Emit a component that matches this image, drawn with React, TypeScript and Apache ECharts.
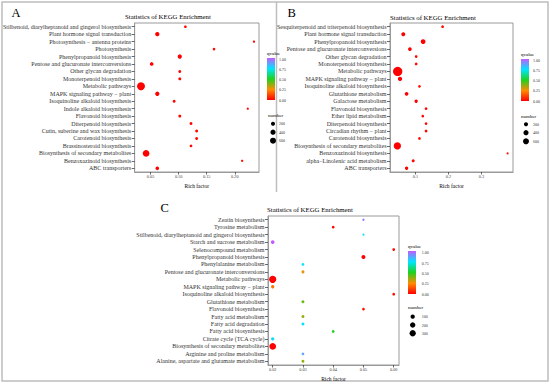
import React, { useEffect, useRef } from 'react';
import * as echarts from 'echarts';

const FONT = '"Liberation Serif", "Times New Roman", serif';

// ---------- Panel A ----------
const catsA = [
  'Stilbenoid, diarylheptanoid and gingerol biosynthesis',
  'Plant hormone signal transduction',
  'Photosynthesis \u2212 antenna proteins',
  'Photosynthesis',
  'Phenylpropanoid biosynthesis',
  'Pentose and glucuronate interconversions',
  'Other glycan degradation',
  'Monoterpenoid biosynthesis',
  'Metabolic pathways',
  'MAPK signaling pathway \u2212 plant',
  'Isoquinoline alkaloid biosynthesis',
  'Indole alkaloid biosynthesis',
  'Flavonoid biosynthesis',
  'Diterpenoid biosynthesis',
  'Cutin, suberine and wax biosynthesis',
  'Carotenoid biosynthesis',
  'Brassinosteroid biosynthesis',
  'Biosynthesis of secondary metabolites',
  'Benzoxazinoid biosynthesis',
  'ABC transporters',
];
const richA = [0.112, 0.062, 0.234, 0.163, 0.102, 0.052, 0.102, 0.102, 0.033, 0.062, 0.092, 0.223, 0.102, 0.122, 0.132, 0.132, 0.122, 0.042, 0.213, 0.062];
const numA = [40, 230, 20, 40, 230, 140, 60, 60, 1250, 230, 60, 20, 60, 60, 60, 60, 45, 800, 20, 140];
const qA = [0.01, 0, 0.02, 0.01, 0, 0, 0.01, 0.01, 0, 0, 0.01, 0.02, 0.01, 0.01, 0.01, 0.01, 0.01, 0, 0.02, 0];

// ---------- Panel B ----------
const catsB = [
  'Sesquiterpenoid and triterpenoid biosynthesis',
  'Plant hormone signal transduction',
  'Phenylpropanoid biosynthesis',
  'Pentose and glucuronate interconversions',
  'Other glycan degradation',
  'Monoterpenoid biosynthesis',
  'Metabolic pathways',
  'MAPK signaling pathway \u2212 plant',
  'Isoquinoline alkaloid biosynthesis',
  'Glutathione metabolism',
  'Galactose metabolism',
  'Flavonoid biosynthesis',
  'Ether lipid metabolism',
  'Diterpenoid biosynthesis',
  'Circadian rhythm \u2212 plant',
  'Carotenoid biosynthesis',
  'Biosynthesis of secondary metabolites',
  'Benzoxazinoid biosynthesis',
  'alpha\u2212Linolenic acid metabolism',
  'ABC transporters',
];
const richB = [0.182, 0.063, 0.123, 0.083, 0.102, 0.102, 0.046, 0.053, 0.112, 0.073, 0.102, 0.132, 0.122, 0.132, 0.132, 0.112, 0.045, 0.379, 0.093, 0.073];
const numB = [43, 185, 300, 143, 43, 43, 1800, 232, 43, 143, 96, 43, 43, 43, 43, 43, 1000, 7, 67, 96];
const qB = [0.02, 0, 0, 0, 0.01, 0.01, 0, 0, 0.01, 0, 0, 0.01, 0.01, 0.01, 0.01, 0.01, 0, 0.02, 0.01, 0];

// ---------- Panel C ----------
const catsC = [
  'Zeatin biosynthesis',
  'Tyrosine metabolism',
  'Stilbenoid, diarylheptanoid and gingerol biosynthesis',
  'Starch and sucrose metabolism',
  'Selenocompound metabolism',
  'Phenylpropanoid biosynthesis',
  'Phenylalanine metabolism',
  'Pentose and glucuronate interconversions',
  'Metabolic pathways',
  'MAPK signaling pathway \u2212 plant',
  'Isoquinoline alkaloid biosynthesis',
  'Glutathione metabolism',
  'Flavonoid biosynthesis',
  'Fatty acid metabolism',
  'Fatty acid degradation',
  'Fatty acid biosynthesis',
  'Citrate cycle (TCA cycle)',
  'Biosynthesis of secondary metabolites',
  'Arginine and proline metabolism',
  'Alanine, aspartate and glutamate metabolism',
];
const richC = [0.05, 0.04, 0.05, 0.02, 0.06, 0.05, 0.03, 0.03, 0.02, 0.02, 0.06, 0.03, 0.05, 0.03, 0.03, 0.04, 0.02, 0.02, 0.03, 0.03];
const numC = [8, 19, 8, 63, 19, 81, 19, 29, 438, 42, 19, 29, 19, 29, 29, 19, 42, 352, 19, 29];
const qC = [0.95, 0.01, 0.76, 1.0, 0.02, 0.0, 0.74, 0.28, 0.0, 0.2, 0.02, 0.42, 0.02, 0.36, 0.74, 0.5, 0.77, 0.0, 0.87, 0.37];

// ---------- ticks / legends ----------
const xTicksA = [0.05, 0.1, 0.15, 0.2];
const xTicksB = [0.1, 0.2, 0.3];
const xTicksC = [0.02, 0.03, 0.04, 0.05, 0.06];
const qTicks = [1, 0.75, 0.5, 0.25, 0];
const sizeTicksAB = [200, 400, 600];
const sizeTicksC = [100, 200, 300];
const qColors = ['#ff0000', '#ff8c00', '#1ed21e', '#00e5ff', '#c25cff'];

const sizeAB = (v: number) => 1.5 + 4.5 * Math.sqrt(v / 600);
const sizeC = (v: number) => 1.5 + 4.8 * Math.sqrt(v / 300);

const txt = (x: number, y: number, text: string, size: number, extra: any = {}) => ({
  type: 'text',
  x,
  y,
  silent: true,
  style: { text, fontSize: size, fontFamily: FONT, fill: '#000', align: 'left', verticalAlign: 'middle', ...extra },
});

function legend(cfg: {
  qx: number; qy: number; barX: number; barY: number; barH: number; labX: number;
  nx: number; ny: number; dotX: number; dotYs: number[]; ticks: number[]; sizeFn: (v: number) => number;
}) {
  const els: any[] = [];
  els.push(txt(cfg.qx, cfg.qy, 'qvalue', 5));
  els.push({
    type: 'rect',
    silent: true,
    shape: { x: cfg.barX, y: cfg.barY, width: 8, height: cfg.barH },
    style: {
      fill: new echarts.graphic.LinearGradient(0, 1, 0, 0, qColors.map((c, i) => ({ offset: i / (qColors.length - 1), color: c }))),
    },
  });
  qTicks.forEach((q) => {
    els.push(txt(cfg.labX, cfg.barY + 1.8 + (1 - q) * (cfg.barH - 1.8), q.toFixed(2), 4, { fill: '#333' }));
  });
  els.push(txt(cfg.nx, cfg.ny, 'number', 5));
  cfg.ticks.forEach((t, i) => {
    els.push({
      type: 'circle',
      silent: true,
      shape: { cx: cfg.dotX, cy: cfg.dotYs[i], r: cfg.sizeFn(t) / 2 },
      style: { fill: '#000' },
    });
    els.push(txt(cfg.labX, cfg.dotYs[i], String(t), 4, { fill: '#333' }));
  });
  return els;
}

const xAxisBase = (grid: number, min: number, max: number, ticks: number[], digits: number) => ({
  type: 'value',
  gridIndex: grid,
  min,
  max,
  splitLine: { show: false },
  axisLine: { show: true, lineStyle: { color: '#9a9a9a', width: 1 } },
  axisTick: { show: true, customValues: ticks, length: 2.5, lineStyle: { color: '#444', width: 0.8 } },
  axisLabel: {
    customValues: ticks,
    formatter: (v: number) => v.toFixed(digits),
    fontSize: 4.3,
    color: '#444',
    margin: 2.5,
    fontFamily: FONT,
  },
  name: 'Rich factor',
  nameLocation: 'middle',
  nameGap: 11,
  nameTextStyle: { fontSize: 5.5, color: '#000', fontFamily: FONT },
});

const yAxisBase = (grid: number, cats: string[]) => ({
  type: 'category',
  gridIndex: grid,
  data: cats,
  inverse: true,
  axisLine: { show: true, lineStyle: { color: '#9a9a9a', width: 1 } },
  axisTick: { show: true, alignWithLabel: true, length: 3, lineStyle: { color: '#444', width: 0.8 } },
  axisLabel: { fontSize: 6, color: '#333', margin: 3.5, fontFamily: FONT, interval: 0 },
  splitLine: { show: false },
});

const series = (i: number, cats: string[], rich: number[], num: number[], q: number[], sz: (v: number) => number) => ({
  type: 'scatter',
  xAxisIndex: i,
  yAxisIndex: i,
  data: cats.map((c, j) => [rich[j], c, num[j], q[j]]),
  symbol: 'circle',
  symbolSize: (v: any[]) => sz(v[2]),
  itemStyle: { opacity: 1 },
});

export default function App() {
  const ref = useRef<HTMLDivElement>(null);
  useEffect(() => {
    if (!ref.current) return;
    const chart = echarts.init(ref.current, undefined, { renderer: 'svg' });
    const graphic: any[] = [
      {
        type: 'rect',
        silent: true,
        shape: { x: 2, y: 2, width: 546, height: 379 },
        style: { fill: 'none', stroke: '#bdbdbd', lineWidth: 1.5 },
      },
      {
        type: 'line',
        silent: true,
        shape: { x1: 276.5, y1: 2, x2: 276.5, y2: 192 },
        style: { stroke: '#bdbdbd', lineWidth: 1.5 },
      },
      txt(11.5, 13, 'A', 12.5),
      txt(287.5, 13, 'B', 12.5),
      txt(160.5, 208, 'C', 12.5),
      txt(125, 16, 'Statistics of KEGG Enrichment', 6.8),
      txt(390, 17, 'Statistics of KEGG Enrichment', 6.8),
      txt(267, 209, 'Statistics of KEGG Enrichment', 6.8),
      ...legend({ qx: 267, qy: 53, barX: 267, barY: 58, barH: 42, labX: 279, nx: 268, ny: 115, dotX: 273, dotYs: [123.7, 132.2, 140.7], ticks: sizeTicksAB, sizeFn: sizeAB }),
      ...legend({ qx: 521, qy: 54, barX: 521, barY: 59, barH: 42, labX: 533, nx: 521, ny: 116, dotX: 526, dotYs: [124.3, 132.7, 141.3], ticks: sizeTicksAB, sizeFn: sizeAB }),
      ...legend({ qx: 408, qy: 246.7, barX: 408, barY: 251, barH: 43, labX: 421.7, nx: 408, ny: 307.7, dotX: 412.7, dotYs: [316.7, 325, 333.3], ticks: sizeTicksC, sizeFn: sizeC }),
    ];
    chart.setOption({
      animation: false,
      backgroundColor: '#ffffff',
      grid: [
        { left: 126, top: 23, width: 133, height: 149, show: true, borderColor: '#9a9a9a', borderWidth: 1, backgroundColor: '#fff' },
        { left: 390, top: 23, width: 123, height: 149, show: true, borderColor: '#9a9a9a', borderWidth: 1, backgroundColor: '#fff' },
        { left: 268, top: 216, width: 131, height: 149, show: true, borderColor: '#9a9a9a', borderWidth: 1, backgroundColor: '#fff' },
      ],
      xAxis: [
        xAxisBase(0, 0.0217, 0.243, xTicksA, 2),
        xAxisBase(1, 0.0227, 0.3955, xTicksB, 1),
        xAxisBase(2, 0.01845, 0.06175, xTicksC, 2),
      ],
      yAxis: [yAxisBase(0, catsA), yAxisBase(1, catsB), yAxisBase(2, catsC)],
      visualMap: [
        {
          type: 'continuous',
          show: false,
          seriesIndex: [0, 1, 2],
          dimension: 3,
          min: 0,
          max: 1,
          inRange: { color: qColors },
        },
      ],
      series: [
        series(0, catsA, richA, numA, qA, sizeAB),
        series(1, catsB, richB, numB, qB, sizeAB),
        series(2, catsC, richC, numC, qC, sizeC),
      ],
      graphic,
    });
    return () => chart.dispose();
  }, []);
  return <div ref={ref} style={{ position: 'absolute', left: 0, top: 0, width: 550, height: 384, background: '#fff' }} />;
}
